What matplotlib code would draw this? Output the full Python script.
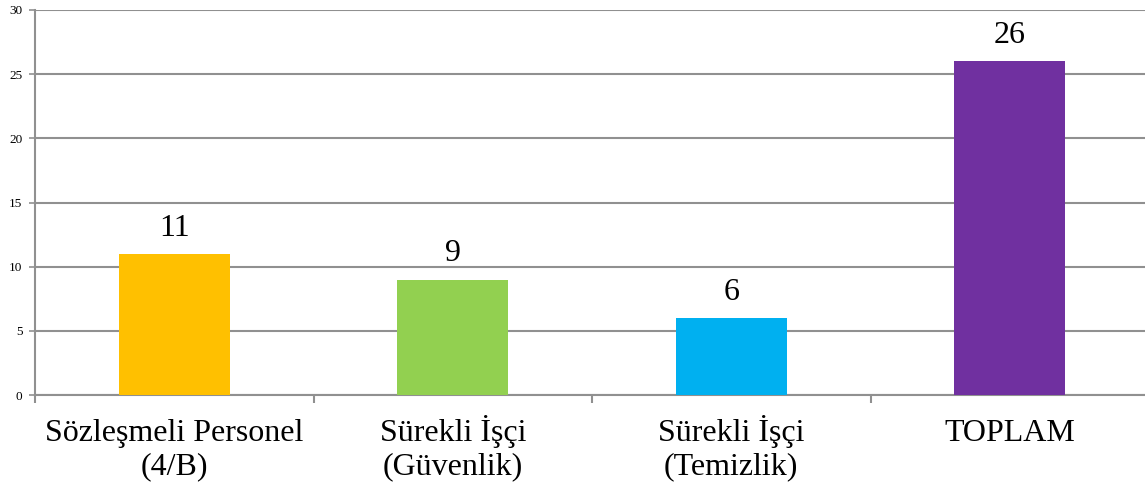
import matplotlib.pyplot as plt

categories = ['Sözleşmeli Personel\n(4/B)', 'Sürekli İşçi\n(Güvenlik)',
              'Sürekli İşçi\n(Temizlik)', 'TOPLAM']
values = [11, 9, 6, 26]
colors = ['#FFC000', '#92D050', '#00B0F0', '#7030A0']
yticks = [0, 5, 10, 15, 20, 25, 30]

plt.rcParams['font.family'] = ['Liberation Serif', 'DejaVu Serif']

fig = plt.figure(figsize=(11.45, 4.92), dpi=100)
ax = fig.add_axes([35 / 1145, 97 / 492, 1114 / 1145, 385 / 492])

x = range(len(categories))
bars = ax.bar(x, values, width=0.40, color=colors, zorder=3)

for b, v in zip(bars, values):
    ax.annotate(str(v), (b.get_x() + b.get_width() / 2, v),
                xytext=(0, 8), textcoords='offset points',
                ha='center', va='bottom', fontsize=23)

grid_c = '#909090'
ax.set_ylim(0, 30)
ax.set_xlim(-0.5, len(categories) - 0.5)
ax.set_yticks(yticks)
ax.yaxis.grid(True, color=grid_c, linewidth=1.5, zorder=0)
ax.tick_params(axis='y', labelsize=9.5, length=4, width=1.2, color=grid_c, pad=5)

# category labels, one text per line so baselines line up
ax.set_xticks([])
for i, lab in enumerate(categories):
    for j, line in enumerate(lab.split('\n')):
        ax.text(i, -(46 + 33 * j) / 385, line, transform=ax.get_xaxis_transform(),
                ha='center', va='baseline', fontsize=23)
ax.set_xticks([i - 0.5 for i in range(len(categories) + 1)], minor=True)
ax.tick_params(axis='x', which='minor', length=6, width=1.5, color=grid_c)

for s in ['top', 'right']:
    ax.spines[s].set_visible(False)
for s in ['left', 'bottom']:
    ax.spines[s].set_color(grid_c)
    ax.spines[s].set_linewidth(1.5)

fig.savefig('out.png', dpi=100)
